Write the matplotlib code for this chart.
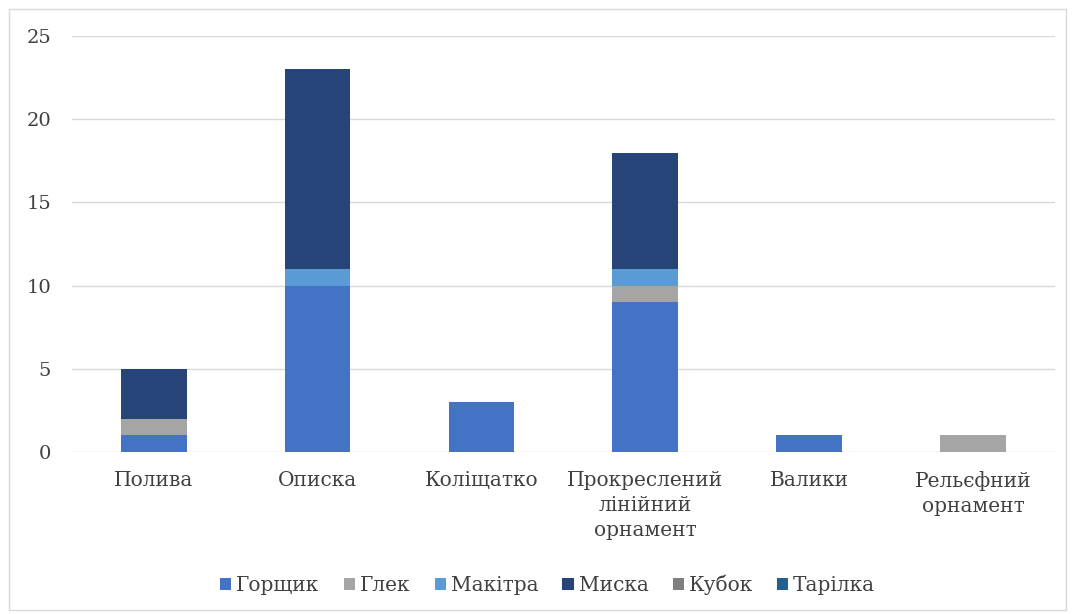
import numpy as np
import matplotlib as mpl
mpl.use('agg')
import matplotlib.pyplot as plt
from matplotlib.patches import Rectangle

categories = ['Полива', 'Описка', 'Коліщатко', 'Прокреслений\nлінійний\nорнамент',
              'Валики', 'Рельєфний\nорнамент']
series_names = ['Горщик', 'Глек', 'Макітра', 'Миска', 'Кубок', 'Тарілка']
gorshchyk = [1, 10, 3, 9, 1, 0]
glek = [1, 0, 0, 1, 0, 1]
makitra = [0, 1, 0, 1, 0, 0]
myska = [3, 12, 0, 7, 0, 0]
kubok = [0, 0, 0, 0, 0, 0]
tarilka = [0, 0, 0, 0, 0, 0]
colors = ['#4472C4', '#A5A5A5', '#5B9BD5', '#264478', '#7F7F7F', '#255E91']

plt.rcParams['font.family'] = ['DejaVu Serif']

fig = plt.figure(figsize=(10.72, 6.14), dpi=100)
ax = fig.add_axes([0.067, 0.264, 0.917, 0.677])

x = np.arange(len(categories))
bottom = np.zeros(len(categories))
for name, vals, c in zip(series_names, [gorshchyk, glek, makitra, myska, kubok, tarilka], colors):
    vals = np.array(vals, dtype=float)
    ax.bar(x, vals, width=0.4, bottom=bottom, color=c, label=name, zorder=3)
    bottom += vals

ax.set_xlim(-0.5, len(categories) - 0.5)
ax.set_ylim(0, 25)
ax.set_yticks(range(0, 26, 5))
ax.set_xticks(x)
ax.set_xticklabels(categories, fontsize=14.5, color='#404040', linespacing=1.4)
ax.tick_params(axis='y', labelsize=14, labelcolor='#404040', length=0, pad=15)
ax.tick_params(axis='x', length=0, pad=14)
ax.grid(axis='y', color='#D9D9D9', lw=1, zorder=0)
for s in ax.spines.values():
    s.set_visible(False)

ax.legend(loc='center', bbox_to_anchor=(0.511, 0.047), bbox_transform=fig.transFigure,
          ncol=6, frameon=False, fontsize=14.5, handlelength=0.55, handleheight=0.55,
          handletextpad=0.25, columnspacing=1.2, labelcolor='#404040')

fig.patches.append(Rectangle((0.008, 0.006), 0.986, 0.98, transform=fig.transFigure,
                             fill=False, edgecolor='#D9D9D9', lw=1))

plt.savefig('out.png', dpi=100)
